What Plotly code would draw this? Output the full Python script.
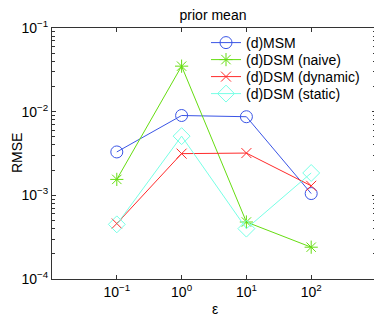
import plotly.graph_objects as go

eps = [0.1, 1, 10, 100]
msm = [3.3e-3, 9.0e-3, 8.7e-3, 1.05e-3]
naive = [1.55e-3, 3.5e-2, 4.8e-4, 2.4e-4]
dynamic = [4.6e-4, 3.15e-3, 3.2e-3, 1.3e-3]
static = [4.5e-4, 5.1e-3, 4.0e-4, 1.85e-3]

names = ["(d)MSM", "(d)DSM (naive)", "(d)DSM (dynamic)", "(d)DSM (static)"]
colors = ["#3a55e6", "#66dd11", "#ff2a2a", "#77ffe6"]
symbols = ["circle-open", "asterisk-open", "x-thin-open", "diamond-open"]
sizes = [12, 11, 10, 13]

xticks = [0.1, 1, 10, 100]
xticktext = ["10<sup>−1</sup>", "10<sup>0</sup>", "10<sup>1</sup>", "10<sup>2</sup>"]
yticks = [1e-4, 1e-3, 1e-2, 1e-1]
yticktext = ["10<sup>−4</sup>", "10<sup>−3</sup>", "10<sup>−2</sup>", "10<sup>−1</sup>"]
yminor = [m * d for d in [1e-4, 1e-3, 1e-2] for m in range(2, 10)]

FONT = "Liberation Sans, Arial"
legend_ids = ["legend", "legend2", "legend3", "legend4"]

# the page body adds an 8px offset; figure sized to fit the 382x318 window
OFF = 8
W, H = 382 - OFF, 318 - OFF
ML, MR, MT, MB = 52 - OFF, 6, 28 - OFF, 39
PW, PH = W - ML - MR, H - MT - MB
legend_rows_px = [43, 60, 77, 94]   # row centers, page pixels


def py(ypage):
    return (H - MB - (ypage - OFF)) / PH


def px(xpage):
    return (xpage - OFF - ML) / PW


fig = go.Figure()
for name, ys, c, s, sz, lid in zip(names, [msm, naive, dynamic, static], colors, symbols, sizes, legend_ids):
    fig.add_trace(go.Scatter(
        x=eps, y=ys, name=name, mode="lines+markers",
        line=dict(color=c, width=1),
        marker=dict(symbol=s, size=sz, color=c, line=dict(color=c, width=1)),
        legend=lid,
    ))

axis_common = dict(
    showgrid=False, zeroline=False, showline=True, linecolor="#333", linewidth=1,
    mirror="ticks", ticks="inside", ticklen=4, tickcolor="#333",
    tickfont=dict(family=FONT, size=14, color="black"),
)

fig.update_xaxes(type="log", range=[-2, 3], tickvals=xticks, ticktext=xticktext, **axis_common)
fig.update_yaxes(type="log", range=[-4, -1], tickvals=yticks, ticktext=yticktext,
                 minor=dict(tickvals=yminor, ticks="inside", ticklen=3, tickcolor="#333", showgrid=False),
                 **axis_common)

legend_style = dict(xanchor="left", yanchor="middle", x=px(206),
                    bgcolor="rgba(255,255,255,0)", borderwidth=0,
                    font=dict(size=14, family=FONT), itemwidth=30)
layout_legends = {lid: dict(y=py(ypx), **legend_style) for lid, ypx in zip(legend_ids, legend_rows_px)}

fig.update_layout(
    width=W, height=H,
    margin=dict(l=ML, r=MR, t=MT, b=MB),
    paper_bgcolor="white", plot_bgcolor="white",
    font=dict(family=FONT, size=14, color="black"),
    title=dict(text="prior mean", x=(213 - OFF) / W, xanchor="center", y=1, yanchor="top",
               pad=dict(t=2, b=0), font=dict(size=14, family=FONT)),
    showlegend=True,
    annotations=[
        dict(text="ε", xref="paper", yref="paper", x=px(215), y=py(309),
             xanchor="center", yanchor="middle", showarrow=False, font=dict(size=14, family=FONT)),
        dict(text="RMSE", xref="paper", yref="paper", x=px(17), y=py(153), textangle=-90,
             xanchor="center", yanchor="middle", showarrow=False, font=dict(size=14, family=FONT)),
    ],
    **layout_legends,
)

fig.write_html("out.html")
